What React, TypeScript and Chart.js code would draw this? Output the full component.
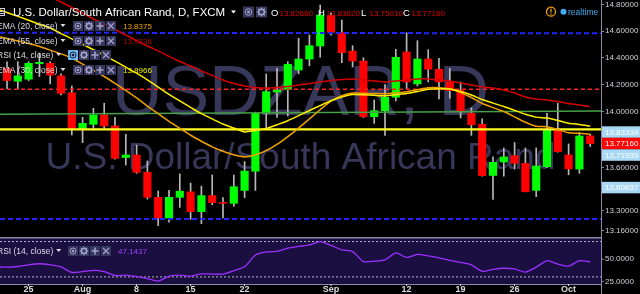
import React, { useEffect, useRef } from 'react';
import { Chart, registerables } from 'chart.js';

Chart.register(...registerables);

// ---------------- data ----------------
const dates = ['Jul 21','Jul 22','Jul 25','Jul 26','Jul 27','Jul 28','Jul 29','Aug 1','Aug 2','Aug 3','Aug 4','Aug 5','Aug 8','Aug 9','Aug 10','Aug 11','Aug 12','Aug 15','Aug 16','Aug 17','Aug 18','Aug 19','Aug 22','Aug 23','Aug 24','Aug 25','Aug 26','Aug 29','Aug 30','Aug 31','Sep 1','Sep 2','Sep 5','Sep 6','Sep 7','Sep 8','Sep 9','Sep 12','Sep 13','Sep 14','Sep 15','Sep 16','Sep 19','Sep 20','Sep 21','Sep 22','Sep 23','Sep 26','Sep 27','Sep 28','Sep 29','Sep 30','Oct 3','Oct 4','Oct 5'];

const opens = [14.32,14.225,14.24,14.355,14.358,14.265,14.14,13.874,13.91,13.978,13.898,13.672,13.69,13.567,13.392,13.249,13.392,13.43,13.293,13.404,13.355,13.35,13.44,13.575,13.99,14.145,14.165,14.308,14.39,14.488,14.72,14.59,14.45,14.375,13.965,14.009,14.107,14.443,14.205,14.39,14.314,14.22,14.156,13.99,13.91,13.545,13.64,13.685,13.63,13.44,13.607,13.87,13.69,13.59,13.8266];
const highs = [14.37,14.37,14.37,14.435,14.37,14.28,14.19,13.961,14.026,14.063,13.96,13.838,13.76,13.647,13.436,13.44,13.556,13.492,13.47,13.548,13.39,13.548,13.643,13.998,14.279,14.32,14.37,14.546,14.571,14.8,14.74,14.685,14.49,14.4,14.087,14.2,14.463,14.588,14.528,14.46,14.396,14.32,14.22,14.03,13.95,13.676,13.74,13.779,13.74,13.74,13.989,14.063,13.769,13.85,13.8382];
const lows = [14.17,14.166,14.23,14.26,14.205,14.125,13.833,13.778,13.88,13.88,13.66,13.619,13.56,13.38,13.196,13.22,13.322,13.24,13.21,13.34,13.25,13.33,13.39,13.44,13.88,13.96,13.97,14.28,14.34,14.403,14.57,14.363,14.33,13.96,13.917,13.83,14.08,14.17,14.19,14.22,14.094,14.1,13.956,13.83,13.54,13.378,13.54,13.59,13.43,13.397,13.6,13.71,13.55,13.56,13.7501];
const closes = [14.23,14.265,14.358,14.365,14.27,14.136,13.881,13.917,13.978,13.898,13.666,13.69,13.567,13.392,13.249,13.392,13.435,13.293,13.404,13.355,13.35,13.466,13.576,13.99,14.148,14.16,14.351,14.39,14.49,14.723,14.591,14.438,14.375,13.965,14.009,14.107,14.403,14.22,14.39,14.314,14.22,14.156,14.007,13.907,13.544,13.638,13.676,13.631,13.431,13.612,13.874,13.714,13.591,13.826,13.7716];

// indicator series start one bar earlier (Jul 20)
const indicatorStart = -1;
const ema20 = [14.563,14.544,14.525,14.507,14.484,14.457,14.429,14.398,14.352,14.306,14.26,14.21,14.158,14.102,14.042,13.987,13.932,13.881,13.831,13.788,13.748,13.717,13.691,13.676,13.691,13.721,13.765,13.821,13.883,13.949,14.016,14.078,14.119,14.138,14.136,14.134,14.133,14.14,14.148,14.162,14.176,14.177,14.168,14.141,14.105,14.061,14.031,14.003,13.964,13.925,13.896,13.892,13.872,13.849,13.845,13.8375];
const ema30 = [14.772,14.742,14.713,14.683,14.653,14.624,14.582,14.542,14.501,14.46,14.418,14.374,14.329,14.285,14.235,14.182,14.129,14.08,14.033,13.987,13.949,13.912,13.883,13.855,13.866,13.879,13.907,13.936,13.973,14.01,14.046,14.081,14.109,14.127,14.125,14.121,14.118,14.126,14.134,14.149,14.165,14.17,14.168,14.149,14.124,14.09,14.064,14.039,14.011,13.983,13.962,13.955,13.938,13.918,13.909,13.8966];
const ema55 = [15.08,15.033,14.994,14.947,14.908,14.866,14.823,14.781,14.739,14.693,14.655,14.613,14.571,14.529,14.488,14.451,14.41,14.372,14.338,14.301,14.268,14.234,14.208,14.19,14.179,14.175,14.179,14.186,14.197,14.208,14.219,14.231,14.238,14.242,14.234,14.227,14.219,14.227,14.234,14.242,14.242,14.234,14.227,14.212,14.197,14.182,14.175,14.16,14.138,14.109,14.094,14.087,14.076,14.062,14.051,14.038];
const rsi14 = [41.4,41.0,41.8,43.7,44.9,43.7,41.4,35.1,35.9,37.5,35.9,31.6,32.0,30.4,28.1,25.3,30.8,32.0,30.8,33.5,33.2,33.2,37.1,41.4,54.7,58.2,59.0,62.6,64.5,66.1,70.0,65.7,60.6,58.6,47.3,47.7,49.2,57.1,52.0,55.5,53.9,51.6,48.8,46.5,43.7,36.3,38.6,39.8,39.0,35.5,41.0,48.4,44.5,42.2,48.4,47.1437];

const legendEma20 = '13.8375';
const legendEma55 = '13.9336';
const legendEma30 = '13.8966';

// drawn price levels [left, right]
const blueUpper = [14.588, 14.584];
const redDashed = [14.166, 14.166];
const greenTrend = [13.983, 14.007];
const yellowLevel = [13.874, 13.874];
const blueLower = [13.242, 13.242];
const rsiBands = [70, 30];

const xTickDates = ['Jul 25','Aug 1','Aug 8','Aug 15','Aug 22','Sep 1','Sep 12','Sep 19','Sep 26','Oct 3'];
const xTickText = ['25','Aug','8','15','22','Sep','12','19','26','Oct'];
const priceTicks = [13.16, 13.3, 13.6, 14.0, 14.2, 14.4, 14.6, 14.8];
const rsiTicks = [50, 25];
// price-scale tags: shown value and the price level where the tag sits
const tagValues = [13.83334, 13.71939, 13.60637];
const tagLevels = [13.83334, 13.71939, 13.46];

// ---------------- layout constants ----------------
const FONT = '"Liberation Sans", Arial, sans-serif';
const X_MIN = -0.648;
const X_MAX = 55.0;
// price pane covers the top 237 of 284 plot pixels, the RSI pane the rest
const PRICE_MAX = 14.8385;
const PRICE_MIN = 12.802; // value at the plot bottom (below the price pane)
const PRICE_PANE_BOTTOM = 13.1187;
const RSI_MIN = 22;
const RSI_MAX = 343.04; // value at the plot top (above the RSI pane)
const RSI_PANE_TOP = 74;

function tri(ctx: CanvasRenderingContext2D, x: number, y: number, color: string) {
  ctx.fillStyle = color;
  ctx.beginPath();
  ctx.moveTo(x, y);
  ctx.lineTo(x + 5, y);
  ctx.lineTo(x + 2.5, y + 3);
  ctx.closePath();
  ctx.fill();
}

function iconBox(ctx: CanvasRenderingContext2D, x: number, y: number, s: number, kind: string, active = false) {
  ctx.save();
  ctx.fillStyle = active ? '#6cb6ea' : '#36365c';
  ctx.fillRect(x, y, s, s);
  const c = active ? '#1d1d3d' : '#a0a0c8';
  ctx.strokeStyle = c;
  ctx.fillStyle = c;
  ctx.lineWidth = 1;
  const cx = x + s / 2, cy = y + s / 2, r = s * 0.3;
  if (kind === 'eye') {
    ctx.beginPath(); ctx.arc(cx, cy, r, 0, Math.PI * 2); ctx.stroke();
    ctx.beginPath(); ctx.arc(cx, cy, r * 0.45, 0, Math.PI * 2); ctx.fill();
  } else if (kind === 'gear') {
    ctx.lineWidth = 1.5;
    ctx.beginPath(); ctx.arc(cx, cy, r * 0.85, 0, Math.PI * 2); ctx.stroke();
    ctx.lineWidth = 1.2;
    for (let a = 0; a < 8; a++) {
      const t = (a * Math.PI) / 4;
      ctx.beginPath();
      ctx.moveTo(cx + Math.cos(t) * r * 0.85, cy + Math.sin(t) * r * 0.85);
      ctx.lineTo(cx + Math.cos(t) * r * 1.4, cy + Math.sin(t) * r * 1.4);
      ctx.stroke();
    }
  } else if (kind === 'plus') {
    ctx.lineWidth = 1.6;
    ctx.beginPath();
    ctx.moveTo(cx - r * 1.2, cy); ctx.lineTo(cx + r * 1.2, cy);
    ctx.moveTo(cx, cy - r * 1.2); ctx.lineTo(cx, cy + r * 1.2);
    ctx.stroke();
  } else {
    ctx.lineWidth = 1.3;
    ctx.beginPath();
    ctx.moveTo(cx - r, cy - r); ctx.lineTo(cx + r, cy + r);
    ctx.moveTo(cx + r, cy - r); ctx.lineTo(cx - r, cy + r);
    ctx.stroke();
  }
  ctx.restore();
}

function legendRow(ctx: CanvasRenderingContext2D, name: string, baseline: number, boxX: number, value: string | null, valueColor: string, active = false) {
  ctx.font = `8.5px ${FONT}`;
  ctx.fillStyle = '#dcdce6';
  ctx.textAlign = 'left';
  ctx.textBaseline = 'alphabetic';
  ctx.fillText(name, -3, baseline);
  const w = ctx.measureText(name).width;
  tri(ctx, -3 + w + 3, baseline - 5, '#dcdce6');
  ['eye', 'gear', 'plus', 'x'].forEach((k, j) => iconBox(ctx, boxX + j * 11, baseline - 8, 10, k, active && j === 0));
  if (value) {
    ctx.font = `8px ${FONT}`;
    ctx.fillStyle = valueColor;
    ctx.fillText(value, boxX + 50, baseline);
  }
}

const decor = {
  id: 'decor',
  beforeDraw(chart: any) {
    const { ctx, width, height, chartArea } = chart;
    const r = chart.scales.rsi;
    ctx.save();
    ctx.fillStyle = '#000';
    ctx.fillRect(0, 0, width, height);
    const top = r.getPixelForValue(RSI_PANE_TOP);
    ctx.fillStyle = '#1b0f42';
    ctx.fillRect(chartArea.left, top, chartArea.right - chartArea.left, chartArea.bottom - top);
    ctx.restore();
  },
  beforeDatasetsDraw(chart: any) {
    const { ctx, chartArea } = chart;
    const y = chart.scales.y;
    const bottom = y.getPixelForValue(PRICE_PANE_BOTTOM);
    const cx = (chartArea.left + chartArea.right) / 2;
    ctx.save();
    ctx.beginPath();
    ctx.rect(chartArea.left, chartArea.top, chartArea.right - chartArea.left, bottom - chartArea.top);
    ctx.clip();
    ctx.fillStyle = '#37375a';
    ctx.textAlign = 'center';
    ctx.textBaseline = 'alphabetic';
    ctx.font = `70px ${FONT}`;
    ctx.fillText('USDZAR, D', cx, chartArea.top + 115);
    ctx.font = `37px ${FONT}`;
    ctx.fillText('U.S. Dollar/South African Rand', cx, chartArea.top + 169);
    ctx.restore();
  },
  afterDraw(chart: any) {
    const { ctx, chartArea, width, height } = chart;
    const ys = chart.scales.y;
    const rs = chart.scales.rsi;
    const xs = chart.scales.x;
    const paneTop = rs.getPixelForValue(RSI_PANE_TOP);
    ctx.save();

    // pane separators and axis lines
    ctx.fillStyle = '#8a8aa8';
    ctx.fillRect(0, paneTop - 1, chartArea.right, 1.5);
    ctx.fillRect(0, chartArea.bottom, chartArea.right + 1, 1);
    ctx.fillRect(chartArea.right, 0, 1, height);

    // RSI scale labels
    ctx.font = `8px ${FONT}`;
    ctx.fillStyle = '#d0d0dc';
    ctx.textAlign = 'left';
    ctx.textBaseline = 'middle';
    rsiTicks.forEach(v => {
      const py = rs.getPixelForValue(v);
      ctx.fillStyle = '#8a8aa8';
      ctx.fillRect(chartArea.right, py - 0.5, 3, 1);
      ctx.fillStyle = '#d0d0dc';
      ctx.fillText(v.toFixed(4), chartArea.right + 4, py);
    });

    // x labels
    ctx.font = `bold 9px ${FONT}`;
    ctx.fillStyle = '#dcdce4';
    ctx.textAlign = 'center';
    ctx.textBaseline = 'middle';
    xTickDates.forEach((d, k) => {
      const px = xs.getPixelForValue(dates.indexOf(d));
      ctx.fillRect(px - 0.5, chartArea.bottom, 1, 2);
      ctx.fillText(xTickText[k], px, chartArea.bottom + 5.5);
    });

    // price tags on the right scale
    const last = closes[closes.length - 1];
    const items = [
      ...tagValues.map((v, k) => ({ v, at: tagLevels[k], red: false })),
      { v: last, at: last, red: true },
    ].sort((a, b) => b.at - a.at);
    const h = 11.5;
    const py = items.map(it => ys.getPixelForValue(it.at));
    const anchor = items.findIndex(it => it.red);
    for (let k = anchor - 1; k >= 0; k--) py[k] = Math.min(py[k], py[k + 1] - h);
    for (let k = anchor + 1; k < items.length; k++) py[k] = Math.max(py[k], py[k - 1] + h);
    ctx.font = `8px ${FONT}`;
    ctx.textAlign = 'left';
    items.forEach((it, k) => {
      ctx.fillStyle = it.red ? '#ff0000' : '#a8d8f4';
      ctx.fillRect(chartArea.right + 1, py[k] - h / 2, width - chartArea.right, h);
      ctx.fillStyle = '#ffffff';
      ctx.fillText(it.v.toFixed(5), chartArea.right + 4, py[k] + 0.5);
    });

    // title
    ctx.textBaseline = 'alphabetic';
    ctx.strokeStyle = '#cfcfe0';
    ctx.lineWidth = 1;
    ctx.strokeRect(-3.5, 8.5, 8, 7);
    ctx.fillStyle = '#cfcfe0';
    ctx.fillRect(-3, 11, 7, 1);
    ctx.fillRect(-3, 13, 7, 1);
    ctx.font = `11.5px ${FONT}`;
    ctx.fillStyle = '#ffffff';
    ctx.fillText('U.S. Dollar/South African Rand, D, FXCM', 13, 16);
    tri(ctx, 231, 10.5, '#ffffff');
    iconBox(ctx, 243, 6.5, 11, 'eye');
    iconBox(ctx, 256, 6.5, 11, 'gear');
    const n = opens.length - 1;
    const ohlc: [string, number, number][] = [['O', opens[n], 271], ['H', highs[n], 318], ['L', lows[n], 361], ['C', closes[n], 403]];
    ohlc.forEach(([lab, val, x]) => {
      ctx.font = `9.5px ${FONT}`;
      ctx.fillStyle = '#ffffff';
      ctx.fillText(lab, x, 16);
      ctx.font = `8px ${FONT}`;
      ctx.fillStyle = '#e00000';
      ctx.fillText(val.toFixed(5), x + 8.5, 16);
    });

    // indicator legend rows
    legendRow(ctx, 'EMA (20, close)', 29, 73, legendEma20, '#f0a000');
    legendRow(ctx, 'EMA (55, close)', 44, 73, legendEma55, '#b00000');
    legendRow(ctx, 'RSI (14, close)', 58, 68, null, '', true);
    legendRow(ctx, 'EMA (30, close)', 73, 73, legendEma30, '#f0f000');
    legendRow(ctx, 'RSI (14, close)', paneTop + 16, 68, rsi14[rsi14.length - 1].toFixed(4), '#a040ff');

    // realtime badge
    ctx.strokeStyle = '#f0a000';
    ctx.lineWidth = 1.3;
    ctx.beginPath(); ctx.arc(551, 11.7, 4.5, 0, Math.PI * 2); ctx.stroke();
    ctx.fillStyle = '#f0a000';
    ctx.fillRect(550.4, 8.6, 1.2, 4);
    ctx.fillRect(550.4, 13.6, 1.2, 1.2);
    ctx.fillStyle = '#3fa9f5';
    ctx.beginPath(); ctx.arc(563.5, 11.7, 3, 0, Math.PI * 2); ctx.fill();
    ctx.font = `8.5px ${FONT}`;
    ctx.fillText('realtime', 568, 14.7);

    ctx.restore();
  },
};

function levelLine(vals: number[], color: string, width: number, dash: number[], axis = 'y') {
  return {
    type: 'line' as const,
    data: [{ x: X_MIN, y: vals[0] }, { x: X_MAX, y: vals[1] }],
    borderColor: color,
    borderWidth: width,
    borderDash: dash,
    pointRadius: 0,
    yAxisID: axis,
    order: 3,
  };
}

function indicator(vals: number[], color: string, width: number, axis = 'y') {
  return {
    type: 'line' as const,
    data: vals.map((v, k) => ({ x: k + indicatorStart, y: v })),
    borderColor: color,
    borderWidth: width,
    pointRadius: 0,
    tension: 0.2,
    yAxisID: axis,
    order: 2,
  };
}

export default function App() {
  const ref = useRef<HTMLCanvasElement | null>(null);

  useEffect(() => {
    document.body.style.margin = '0';
    document.body.style.background = '#000';
    const canvas = ref.current;
    if (!canvas) return;

    const bodyColors = closes.map((c, i) => (c >= opens[i] ? '#00ff00' : '#ff0000'));

    const chart = new Chart(canvas, {
      type: 'bar',
      data: {
        datasets: [
          {
            type: 'bar',
            data: dates.map((_, i) => ({ x: i, y: [lows[i], highs[i]] })) as any,
            backgroundColor: '#b8b8b8',
            barThickness: 1,
            grouped: false,
            yAxisID: 'y',
            order: 6,
          } as any,
          {
            type: 'bar',
            data: dates.map((_, i) => ({ x: i, y: [opens[i], closes[i]] })) as any,
            backgroundColor: bodyColors,
            barThickness: 7.5,
            minBarLength: 1,
            grouped: false,
            yAxisID: 'y',
            order: 5,
          } as any,
          levelLine(blueUpper, '#2323ff', 2, [5, 3]),
          levelLine(redDashed, '#ff2020', 1.5, [4, 3]),
          levelLine(greenTrend, '#48a048', 1.4, []),
          levelLine(yellowLevel, '#ffff22', 2.2, []),
          levelLine(blueLower, '#2323ff', 2, [5, 3]),
          indicator(ema55, '#d40000', 1.5),
          indicator(ema30, '#ffee00', 1.5),
          indicator(ema20, '#f0a000', 1.5),
          levelLine([rsiBands[0], rsiBands[0]], '#b8b8c8', 1, [2, 2], 'rsi'),
          levelLine([rsiBands[1], rsiBands[1]], '#b8b8c8', 1, [2, 2], 'rsi'),
          indicator(rsi14, '#9b30ff', 1.3, 'rsi'),
        ] as any,
      },
      options: {
        responsive: false,
        animation: false,
        devicePixelRatio: 1,
        layout: { padding: { top: 0, left: 0, right: 0, bottom: 10 } },
        plugins: { legend: { display: false }, tooltip: { enabled: false } },
        scales: {
          x: {
            type: 'linear',
            min: X_MIN,
            max: X_MAX,
            bounds: 'data',
            offset: false,
            display: false,
          },
          y: {
            type: 'logarithmic',
            position: 'right',
            min: PRICE_MIN,
            max: PRICE_MAX,
            bounds: 'data',
            afterFit: (s: any) => { s.width = 39; s.paddingTop = 0; s.paddingBottom = 0; },
            afterBuildTicks: (s: any) => { s.ticks = priceTicks.map(v => ({ value: v })); },
            ticks: {
              callback: (v: any) => Number(v).toFixed(5),
              color: '#d0d0dc',
              font: { family: FONT, size: 8 },
              padding: 1,
              autoSkip: false,
              maxRotation: 0,
            },
            grid: { drawOnChartArea: false, drawTicks: true, tickLength: 3, color: '#8a8aa8' },
            border: { display: true, color: '#8a8aa8' },
          },
          rsi: {
            type: 'linear',
            position: 'right',
            min: RSI_MIN,
            max: RSI_MAX,
            bounds: 'data',
            display: false,
          },
        } as any,
      },
      plugins: [decor],
    });

    return () => chart.destroy();
  }, []);

  return (
    <div style={{ width: 640, height: 294, background: '#000' }}>
      <canvas ref={ref} width={640} height={294} style={{ display: 'block', width: 640, height: 294 }} />
    </div>
  );
}
